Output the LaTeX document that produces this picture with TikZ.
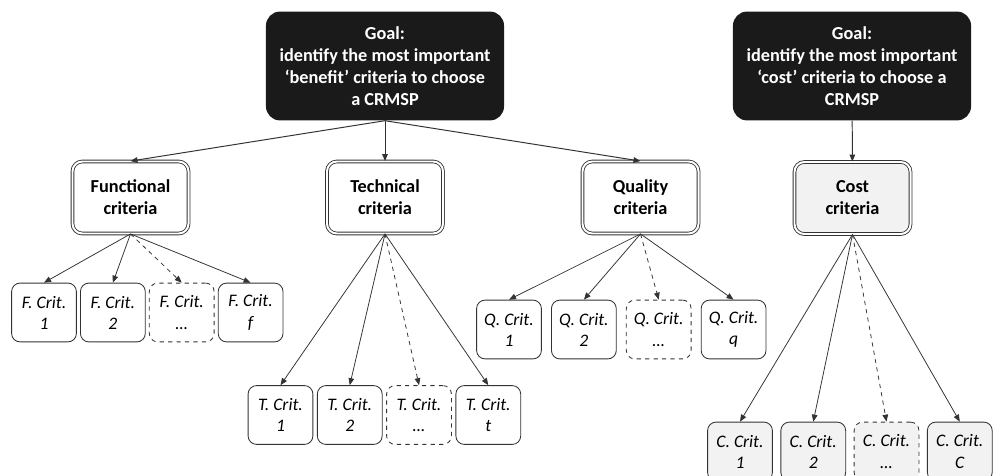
\documentclass[tikz,border=0pt]{standalone}
\usepackage{fontspec}
\setmainfont{Carlito}
\usetikzlibrary{arrows.meta,positioning}
\definecolor{gdark}{HTML}{1A1A1A}
\definecolor{gline}{HTML}{333333}
\definecolor{gfill}{HTML}{F2F2F2}

\begin{document}
\begin{tikzpicture}[x=0.025cm,y=-0.025cm,
      every node/.style={align=center},
      goal/.style={fill=gdark,text=white,rounded corners=10pt,
                   minimum width=5.95cm,minimum height=2.72cm,
                   font=\bfseries\fontsize{13}{15.8}\selectfont},
      cat/.style={draw=gline,line width=0.6pt,double=white,double distance=1.4pt,
                  rounded corners=7pt,minimum width=2.9cm,minimum height=1.8cm,
                  font=\bfseries\fontsize{13}{15.6}\selectfont},
      crit/.style={draw=gline,line width=0.6pt,rounded corners=6pt,
                   minimum width=1.62cm,minimum height=1.47cm,
                   font=\itshape\fontsize{12.5}{15}\selectfont},
      dcrit/.style={crit,dashed},
      arr/.style={-{Triangle[length=5pt,width=4pt]},line width=0.55pt,gline},
      darr/.style={arr,dashed}
    ]
      \useasboundingbox (0,0) rectangle (993,475);
      % goals
      \node[goal] (gb) at (385,66)
        {Goal:\\identify the most important\\‘benefit’ criteria to choose\\a CRMSP};
      \node[goal] (gc) at (852,66)
        {Goal:\\identify the most important\\‘cost’ criteria to choose a\\CRMSP};
      % criteria groups
      \node[cat] (fun) at (130.5,197.5) {Functional\\criteria};
      \node[cat] (tec) at (385,197.5) {Technical\\criteria};
      \node[cat] (qua) at (640.5,197.5) {Quality\\criteria};
      \node[cat,fill=gfill] (cos) at (852.5,198) {Cost\\criteria};
      % functional
      \node[crit] (f1) at (44,312.5) {F. Crit.\\1};
      \node[crit,right=0.8mm of f1] (f2) {F. Crit.\\2};
      \node[dcrit,right=0.8mm of f2] (f3) {F. Crit.\\…};
      \node[crit,right=0.8mm of f3] (f4) {F. Crit.\\f};
      % technical
      \node[crit] (t1) at (280.5,415) {T. Crit.\\1};
      \node[crit,right=0.9mm of t1] (t2) {T. Crit.\\2};
      \node[dcrit,right=0.9mm of t2] (t3) {T. Crit.\\…};
      \node[crit,right=0.9mm of t3] (t4) {T. Crit.\\t};
      % quality
      \node[crit] (q1) at (509,329.5) {Q. Crit.\\1};
      \node[crit,right=2.3mm of q1] (q2) {Q. Crit.\\2};
      \node[dcrit,right=2.3mm of q2] (q3) {Q. Crit.\\…};
      \node[crit,right=2.3mm of q3] (q4) {Q. Crit.\\q};
      % cost
      \node[crit,fill=gfill] (c1) at (740,451.5) {C. Crit.\\1};
      \node[crit,fill=gfill,right=1.9mm of c1] (c2) {C. Crit.\\2};
      \node[dcrit,fill=gfill,right=1.9mm of c2] (c3) {C. Crit.\\…};
      \node[crit,fill=gfill,right=1.9mm of c3] (c4) {C. Crit.\\C};
      % links
      \foreach \c in {fun,tec,qua}
        \draw[arr,line width=0.7pt] (gb.south) -- (\c.north);
      \draw[arr,line width=0.7pt] (gc) -- (cos);
      \foreach \p/\k in {fun/f,tec/t,qua/q,cos/c} {
        \foreach \i in {1,2,4}
          \draw[arr] (\p.south) -- (\k\i.north);
        \draw[darr] (\p.south) -- (\k3.north);
      }
    \end{tikzpicture}
\end{document}
